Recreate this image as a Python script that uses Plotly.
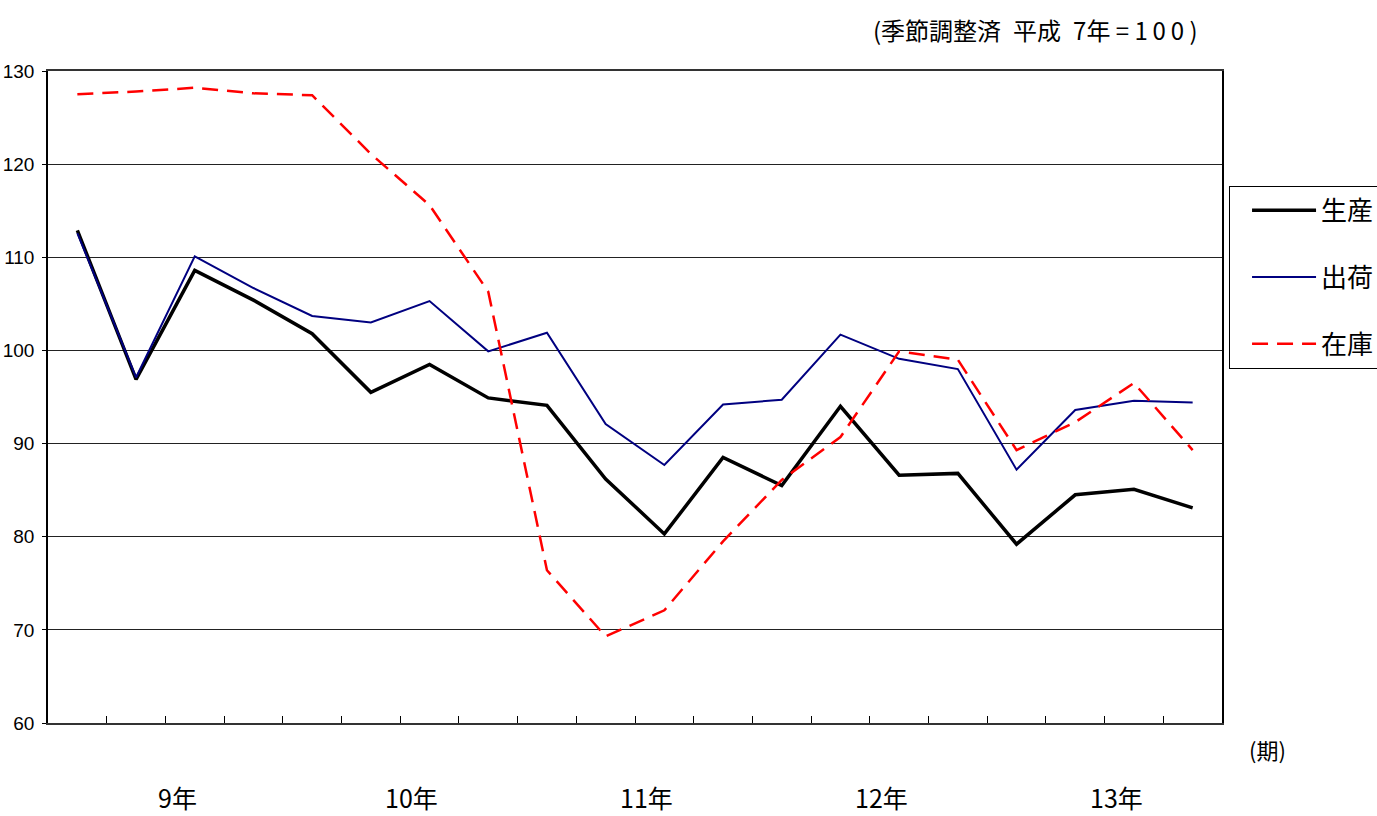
import plotly.graph_objects as go

years = ["9年", "10年", "11年", "12年", "13年"]
quarters = list(range(20))  # 四半期 (9年I期 ～ 13年IV期)

production = [112.9, 96.9, 108.6, 105.4, 101.8, 95.5, 98.5, 94.9, 94.1, 86.2,
              80.3, 88.5, 85.5, 94.0, 86.6, 86.8, 79.2, 84.5, 85.1, 83.1]
shipments = [112.6, 97.1, 110.1, 106.7, 103.7, 103.0, 105.3, 99.9, 101.9, 92.1,
             87.7, 94.2, 94.7, 101.7, 99.1, 98.0, 87.2, 93.6, 94.6, 94.4]
inventory = [127.5, 127.8, 128.2, 127.6, 127.4, 121.1, 115.6, 106.3, 76.4, 69.3,
             72.1, 79.5, 86.1, 90.7, 99.9, 99.0, 89.3, 92.3, 96.5, 89.3]
series_names = ["生産", "出荷", "在庫"]
y_ticks = [60, 70, 80, 90, 100, 110, 120, 130]

JP = "Noto Sans CJK JP"
NUM = "Liberation Sans Narrow, Arial Narrow, Liberation Sans, Arial"

fig = go.Figure()
fig.add_trace(go.Scatter(x=quarters, y=production, name=series_names[0], mode="lines",
                         line=dict(color="black", width=3.5), legendgroup="a"))
fig.add_trace(go.Scatter(x=quarters, y=shipments, name=series_names[1], mode="lines",
                         line=dict(color="#000080", width=2), legendgroup="b"))
fig.add_trace(go.Scatter(x=quarters, y=inventory, name=series_names[2], mode="lines",
                         line=dict(color="#ff0000", width=2.5, dash="16px,9px"), legendgroup="c"))

fig.update_layout(
    width=1377, height=816,
    margin=dict(l=48, r=155, t=71, b=93, autoexpand=False),
    paper_bgcolor="white", plot_bgcolor="white",
    showlegend=True,
    legend=dict(x=1.006, y=0.824, xanchor="left", yanchor="top",
                bordercolor="black", borderwidth=1, bgcolor="white",
                font=dict(family=JP, size=26, color="black"),
                traceorder="grouped", tracegroupgap=30, itemwidth=64,
                indentation=17),
    xaxis=dict(range=[-0.5, 19.5], tickvals=[i + 0.5 for i in range(19)],
               showticklabels=False, ticks="inside", ticklen=7, tickcolor="black",
               showgrid=False, zeroline=False, showline=True, linecolor="#333",
               linewidth=1.5, mirror=True, automargin=False),
    yaxis=dict(range=[60, 130], tickvals=y_ticks, ticks="outside", ticklen=4,
               tickcolor="black", showgrid=True, gridcolor="#222", gridwidth=1,
               zeroline=False, showline=True, linecolor="black", linewidth=1.5,
               mirror=True, automargin=False, ticklabelstandoff=4,
               tickfont=dict(family=NUM, size=19, color="black")),
)

for k, yr in enumerate(years):
    fig.add_annotation(x=4 * k + 1.7, xref="x", y=-0.113, yref="paper", text=yr,
                       showarrow=False, xanchor="center", yanchor="middle",
                       font=dict(family=JP, size=25, color="black"))

fig.add_annotation(x=1.021, xref="paper", y=-0.04, yref="paper", text="(期)",
                   showarrow=False, xanchor="left", yanchor="middle",
                   font=dict(family=JP, size=22, color="black"))
fig.add_annotation(x=0.981, xref="paper", y=1.063, yref="paper",
                   text="(季節調整済\u2002平成\u20027年 = 1\u20090\u20090 )",
                   showarrow=False, xanchor="right", yanchor="middle",
                   font=dict(family=JP, size=24, color="black"))

fig.write_html("out.html", config={"displayModeBar": False},
               post_script="document.body.style.margin='0px';document.body.style.overflow='hidden';")
